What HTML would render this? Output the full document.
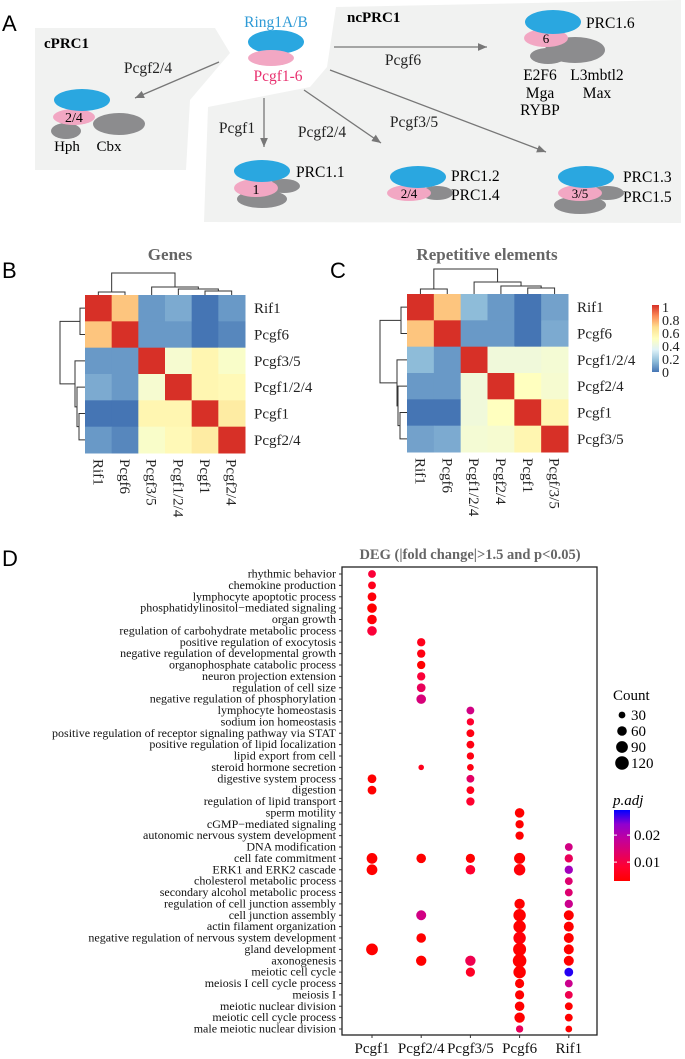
<!DOCTYPE html>
<html><head><meta charset="utf-8">
<style>
html,body{margin:0;padding:0;background:#fff;}
svg{display:block;font-family:"Liberation Serif",serif;}
.sans{font-family:"Liberation Sans",sans-serif;}
</style></head>
<body>
<svg id="fig" width="685" height="1059" viewBox="0 0 685 1059" xmlns="http://www.w3.org/2000/svg">
<g id="panelA">
  <text class="sans" x="2" y="31" font-size="22">A</text>
  <polygon points="35,28 215,28 230,53 190,100 186,170 35,170" fill="#f1f2f1"/>
  <polygon points="336,7 681,0 681,223 204,222 208,107 310,87 327,67" fill="#f1f2f1"/>
  <text x="44" y="48" font-size="15" font-weight="bold">cPRC1</text>
  <text x="347" y="22" font-size="15" font-weight="bold">ncPRC1</text>
  <text x="276" y="27" font-size="15.5" fill="#2e9ad6" text-anchor="middle">Ring1A/B</text>
  <ellipse cx="276" cy="42" rx="28" ry="12" fill="#2aa7e0"/>
  <ellipse cx="271" cy="58" rx="23" ry="8" fill="#f2a7c3"/>
  <text x="278" y="81" font-size="15.5" fill="#e8306f" text-anchor="middle">Pcgf1-6</text>
  <defs><marker id="ah" markerWidth="8" markerHeight="8" refX="7" refY="4" orient="auto"><path d="M0,1 L7,4 L0,7 z" fill="#777"/></marker></defs>
  <g stroke="#777" stroke-width="1.3" marker-end="url(#ah)">
    <line x1="219" y1="62" x2="135" y2="98"/>
    <line x1="334" y1="47" x2="487" y2="47"/>
    <line x1="264" y1="98" x2="264" y2="147"/>
    <line x1="304" y1="90" x2="381" y2="143"/>
    <line x1="330" y1="70" x2="546" y2="152"/>
  </g>
  <g font-size="15.5" text-anchor="middle" fill="#222">
    <text x="148" y="73">Pcgf2/4</text>
    <text x="403" y="65">Pcgf6</text>
    <text x="237" y="133">Pcgf1</text>
    <text x="322" y="137">Pcgf2/4</text>
    <text x="414" y="127">Pcgf3/5</text>
  </g>
  <g>
    <ellipse cx="119" cy="124" rx="26" ry="11" fill="#8c8c8e"/>
    <ellipse cx="66" cy="131" rx="15" ry="8" fill="#8c8c8e"/>
    <ellipse cx="74" cy="117" rx="21" ry="8" fill="#f2a7c3"/>
    <ellipse cx="82" cy="100" rx="28" ry="11" fill="#2aa7e0"/>
    <text x="74" y="122" font-size="14" text-anchor="middle">2/4</text>
    <text x="67" y="151" font-size="15" text-anchor="middle">Hph</text>
    <text x="109" y="151" font-size="15" text-anchor="middle">Cbx</text>
  </g>
  <g>
    <ellipse cx="284" cy="186" rx="16" ry="7" fill="#8c8c8e"/>
    <ellipse cx="262" cy="199" rx="25" ry="9" fill="#8c8c8e"/>
    <ellipse cx="256" cy="188" rx="22" ry="9" fill="#f2a7c3"/>
    <ellipse cx="262" cy="171" rx="28" ry="11" fill="#2aa7e0"/>
    <text x="256" y="194" font-size="14" text-anchor="middle">1</text>
    <text x="296" y="177" font-size="15.5">PRC1.1</text>
  </g>
  <g>
    <ellipse cx="437" cy="193" rx="16" ry="7" fill="#8c8c8e"/>
    <ellipse cx="409" cy="193" rx="22" ry="8" fill="#f2a7c3"/>
    <ellipse cx="418" cy="177" rx="28" ry="11" fill="#2aa7e0"/>
    <text x="409" y="198" font-size="13" text-anchor="middle">2/4</text>
    <text x="451" y="181" font-size="15.5">PRC1.2</text>
    <text x="451" y="200" font-size="15.5">PRC1.4</text>
  </g>
  <g>
    <ellipse cx="607" cy="193" rx="17" ry="7" fill="#8c8c8e"/>
    <ellipse cx="580" cy="205" rx="26" ry="9" fill="#8c8c8e"/>
    <ellipse cx="580" cy="193" rx="22" ry="8" fill="#f2a7c3"/>
    <ellipse cx="586" cy="177" rx="28" ry="11" fill="#2aa7e0"/>
    <text x="580" y="198" font-size="13" text-anchor="middle">3/5</text>
    <text x="623" y="182" font-size="15.5">PRC1.3</text>
    <text x="623" y="202" font-size="15.5">PRC1.5</text>
  </g>
  <g>
    <ellipse cx="575" cy="50" rx="30" ry="13" fill="#8c8c8e"/>
    <ellipse cx="548" cy="56" rx="18" ry="8" fill="#8c8c8e"/>
    <ellipse cx="546" cy="38" rx="22" ry="9" fill="#f2a7c3"/>
    <ellipse cx="553" cy="22" rx="28" ry="12" fill="#2aa7e0"/>
    <text x="546" y="43" font-size="13" text-anchor="middle">6</text>
    <text x="586" y="28" font-size="15.5">PRC1.6</text>
    <g font-size="15.5" text-anchor="middle">
      <text x="540" y="80">E2F6</text><text x="597" y="80">L3mbtl2</text>
      <text x="540" y="98">Mga</text><text x="597" y="98">Max</text>
      <text x="540" y="115">RYBP</text>
    </g>
  </g>
</g>
<g id="panelB"></g>
<g id="panelC"></g>
<g id="panelD"></g>
</svg>
<script>
const genesLabels = ["Rif1","Pcgf6","Pcgf3/5","Pcgf1/2/4","Pcgf1","Pcgf2/4"];
const genesValues = [
 [1,0.72,0.08,0.12,0.0,0.08],
 [0.72,1,0.08,0.08,-0.02,0.04],
 [0.08,0.08,1,0.45,0.55,0.47],
 [0.12,0.08,0.45,1,0.55,0.53],
 [0.0,-0.02,0.55,0.55,1,0.6],
 [0.08,0.04,0.47,0.53,0.6,1]];
const repLabels = ["Rif1","Pcgf6","Pcgf1/2/4","Pcgf2/4","Pcgf1","Pcgf/3/5"];
const repRowLabels = ["Rif1","Pcgf6","Pcgf1/2/4","Pcgf2/4","Pcgf1","Pcgf3/5"];
const repValues = [
 [1,0.72,0.16,0.08,0.0,0.1],
 [0.72,1,0.08,0.08,0.0,0.12],
 [0.16,0.08,1,0.42,0.42,0.44],
 [0.08,0.08,0.42,1,0.5,0.45],
 [0.0,0.0,0.42,0.5,1,0.55],
 [0.1,0.12,0.44,0.45,0.55,1]];
const heatTicks = ["1","0.8","0.6","0.4","0.2","0"];

const goTerms = ["rhythmic behavior","chemokine production","lymphocyte apoptotic process","phosphatidylinositol\u2212mediated signaling","organ growth","regulation of carbohydrate metabolic process","positive regulation of exocytosis","negative regulation of developmental growth","organophosphate catabolic process","neuron projection extension","regulation of cell size","negative regulation of phosphorylation","lymphocyte homeostasis","sodium ion homeostasis","positive regulation of receptor signaling pathway via STAT","positive regulation of lipid localization","lipid export from cell","steroid hormone secretion","digestive system process","digestion","regulation of lipid transport","sperm motility","cGMP\u2212mediated signaling","autonomic nervous system development","DNA modification","cell fate commitment","ERK1 and ERK2 cascade","cholesterol metabolic process","secondary alcohol metabolic process","regulation of cell junction assembly","cell junction assembly","actin filament organization","negative regulation of nervous system development","gland development","axonogenesis","meiotic cell cycle","meiosis I cell cycle process","meiosis I","meiotic nuclear division","meiotic cell cycle process","male meiotic nuclear division"];
const groups = ["Pcgf1","Pcgf2/4","Pcgf3/5","Pcgf6","Rif1"];
const dotRows = [
 [[0,40,0.009]],[[0,40,0.006]],[[0,50,0.004]],[[0,60,0.003]],[[0,60,0.004]],[[0,60,0.009]],
 [[1,45,0.006]],[[1,45,0.005]],[[1,45,0.003]],[[1,45,0.009]],[[1,50,0.012]],[[1,60,0.015]],
 [[2,40,0.016]],[[2,35,0.008]],[[2,40,0.005]],[[2,40,0.005]],[[2,35,0.005]],[[1,20,0.006],[2,30,0.005]],
 [[0,50,0.002],[2,40,0.013]],[[0,50,0.002],[2,40,0.006]],[[2,45,0.008]],
 [[3,60,0.002]],[[3,45,0.002]],[[3,45,0.002]],
 [[4,40,0.016]],
 [[0,75,0.002],[1,60,0.002],[2,55,0.003],[3,80,0.003],[4,45,0.012]],
 [[0,75,0.003],[2,60,0.008],[3,85,0.004],[4,45,0.022]],
 [[4,40,0.014]],[[4,40,0.014]],
 [[3,70,0.002],[4,45,0.017]],
 [[1,65,0.016],[3,100,0.001],[4,65,0.002]],
 [[3,100,0.003],[4,65,0.002]],
 [[1,60,0.002],[3,100,0.004],[4,65,0.002]],
 [[0,90,0.001],[3,110,0.002],[4,65,0.002]],
 [[1,70,0.002],[2,70,0.011],[3,120,0.002],[4,65,0.001]],
 [[2,55,0.007],[3,100,0.002],[4,50,0.028]],
 [[3,55,0.002],[4,40,0.017]],
 [[3,55,0.002],[4,40,0.011]],
 [[3,60,0.002],[4,40,0.003]],
 [[3,70,0.002],[4,40,0.002]],
 [[3,35,0.012],[4,30,0.002]]];
const countLegend = [30,60,90,120];
const padjTicks = [0.01,0.02];

const NS="http://www.w3.org/2000/svg";
function mk(tag, attrs, parent){const e=document.createElementNS(NS,tag);for(const k in attrs)e.setAttribute(k,attrs[k]);if(parent)parent.appendChild(e);return e;}
function hex2rgb(h){return [parseInt(h.substr(1,2),16),parseInt(h.substr(3,2),16),parseInt(h.substr(5,2),16)];}
function lerpStops(stops,t){t=Math.max(0,Math.min(1,t));const n=stops.length-1;const i=Math.min(n-1,Math.floor(t*n));const f=t*n-i;const a=hex2rgb(stops[i]),b=hex2rgb(stops[i+1]);return "rgb("+a.map((v,k)=>Math.round(v+(b[k]-v)*f)).join(",")+")";}
const heatStops=["#4575B4","#91BFDB","#E0F3F8","#FFFFBF","#FEE090","#FC8D59","#D73027"];
function heatColor(v){return lerpStops(heatStops,v);}

function heatmap(g, x0,y0,x1,y1, colLabels,rowLabels,vals,title,titleX,letter,letterX,topDen,leftDen){
  const n=colLabels.length, cw=(x1-x0)/n, ch=(y1-y0)/n;
  const xs=i=>x0+cw*(i+0.5), ys=i=>y0+ch*(i+0.5);
  let t=mk("text",{x:titleX,y:260,"font-size":17,"font-weight":"bold",fill:"#666","text-anchor":"middle"},g);t.textContent=title;
  
  
  let L=mk("text",{x:letterX,y:278,"font-size":22,class:"sans"},g);L.textContent=letter;
  
  
  for(let r=0;r<n;r++)for(let c=0;c<n;c++){
    const rc=mk("rect",{x:x0+cw*c,y:y0+ch*r,width:cw+0.5,height:ch+0.5,fill:heatColor(vals[r][c])},g);
    
    
  }
  for(let r=0;r<n;r++){
    const tx=mk("text",{x:x1+9,y:ys(r)+5,"font-size":15,fill:"#222"},g);tx.textContent=rowLabels[r];
    
    
  }
  for(let c=0;c<n;c++){
    const tx=mk("text",{x:0,y:0,"font-size":15,fill:"#222",transform:`translate(${xs(c)-5},${y1+6}) rotate(90)`},g);tx.textContent=colLabels[c];
    
    
  }
  const dg=mk("g",{stroke:"#333","stroke-width":1,fill:"none"},g);
  
  
  topDen.forEach(m=>{const a=x0+cw*(m[0]+0.5),b=x0+cw*(m[1]+0.5);mk("path",{d:`M${a},${m[3]} V${m[2]} H${b} V${m[4]}`},dg);});
  leftDen.forEach(m=>{const a=y0+ch*(m[0]+0.5),b=y0+ch*(m[1]+0.5);mk("path",{d:`M${m[3]},${a} H${m[2]} V${b} H${m[4]}`},dg);});
}
heatmap(document.getElementById('panelB'),85,295,245,453,genesLabels,genesLabels,genesValues,"Genes",170,"B",2,
 [[0,1,292,295,295],[4,5,291,295,295],[3,4.5,289,295,291],[2,3.75,287,295,289],[0.5,2.875,273,292,287]],
 [[0,1,80,85,85],[4,5,79,85,85],[3,4.5,77,85,79],[2,3.75,75,85,77],[0.5,2.875,60,80,75]]);
heatmap(document.getElementById('panelC'),407,294,568,452,repLabels,repRowLabels,repValues,"Repetitive elements",487,"C",330,
 [[0,1,289,294,294],[4,5,288,294,294],[3,4.5,286,294,288],[2,3.75,282,294,286],[0.5,2.875,269,289,282]],
 [[0,1,401,407,407],[4,5,400,407,407],[3,4.5,398,407,400],[2,3.75,397,407,398],[0.5,2.875,380,401,397]]);
(function(){
  const g=document.getElementById('panelC');
  const d=mk("defs",{},g);const lg=mk("linearGradient",{id:"hg",x1:0,y1:1,x2:0,y2:0},d);
  heatStops.forEach((s,i)=>mk("stop",{offset:i/(heatStops.length-1),"stop-color":s},lg));
  const cb=mk("rect",{x:652,y:305,width:7,height:67,fill:"url(#hg)"},g);
  
  
  heatTicks.forEach((t,i)=>{const tx=mk("text",{x:662,y:307+i*13+5,"font-size":14,fill:"#222"},g);tx.textContent=t;
    
    });
})();

(function(){
  const g=document.getElementById('panelD');
  const px0=342,px1=597,py0=567,py1=1035;
  const colX=i=>372+i*49.2;
  const rowY=i=>574+i*(1029-574)/(goTerms.length-1);
  const pLo=0.0030,pHi=0.0293;
  const dotStops=["#ff0000","#ff0030","#e0006a","#c0009f","#9000d0","#0000ff"];
  const pColor=p=>lerpStops(dotStops,(p-pLo)/(pHi-pLo));
  const rad=c=>0.62*Math.sqrt(c);
  let L=mk("text",{x:2,y:566,"font-size":22,class:"sans"},g);L.textContent="D";
  
  
  let T=mk("text",{x:470,y:559,"font-size":14.5,"font-weight":"bold",fill:"#666","text-anchor":"middle"},g);T.textContent="DEG (|fold change|>1.5 and p<0.05)";
  
  
  const box=mk("rect",{x:px0,y:py0,width:px1-px0,height:py1-py0,fill:"none",stroke:"#222","stroke-width":1.3},g);
  
  
  goTerms.forEach((term,i)=>{
    const tx=mk("text",{x:336,y:rowY(i)+3.5,"font-size":12,"text-anchor":"end",fill:"#111"},g);tx.textContent=term;
    
    
    mk("line",{x1:339,x2:342,y1:rowY(i),y2:rowY(i),stroke:"#333"},g);
  });
  groups.forEach((gn,i)=>{
    mk("line",{x1:colX(i),x2:colX(i),y1:py1,y2:py1+3,stroke:"#333"},g);
    const tx=mk("text",{x:colX(i),y:1053,"font-size":15,"text-anchor":"middle",fill:"#111"},g);tx.textContent=gn;
    
    
  });
  dotRows.forEach((row,i)=>row.forEach(d=>{
    const c=mk("circle",{cx:colX(d[0]),cy:rowY(i),r:rad(d[1]),fill:pColor(d[2])},g);
    
    
  }));
  let ct=mk("text",{x:613,y:700,"font-size":15},g);ct.textContent="Count";
  
  
  countLegend.forEach((c,i)=>{
    const y=715+i*16;
    const cc=mk("circle",{cx:622,cy:y,r:rad(c),fill:"#000"},g);
    
    
    const tx=mk("text",{x:631,y:y+5,"font-size":15},g);tx.textContent=c;
    
    
  });
  let pt=mk("text",{x:613,y:805,"font-size":15,"font-style":"italic"},g);pt.textContent="p.adj";
  
  
  const d=mk("defs",{},g);const lg=mk("linearGradient",{id:"pg",x1:0,y1:1,x2:0,y2:0},d);
  dotStops.forEach((s,i)=>mk("stop",{offset:i/(dotStops.length-1),"stop-color":s},lg));
  const cb=mk("rect",{x:614,y:810,width:16,height:71,fill:"url(#pg)"},g);
  
  
  const pY=p=>881-(p-pLo)/(pHi-pLo)*71;
  padjTicks.forEach(p=>{
    mk("line",{x1:614,x2:617,y1:pY(p),y2:pY(p),stroke:"#fff"},g);
    mk("line",{x1:627,x2:630,y1:pY(p),y2:pY(p),stroke:"#fff"},g);
    const tx=mk("text",{x:634,y:pY(p)+5,"font-size":15},g);tx.textContent=p.toFixed(2);
    
    
  });
})();
</script>
</body></html>
